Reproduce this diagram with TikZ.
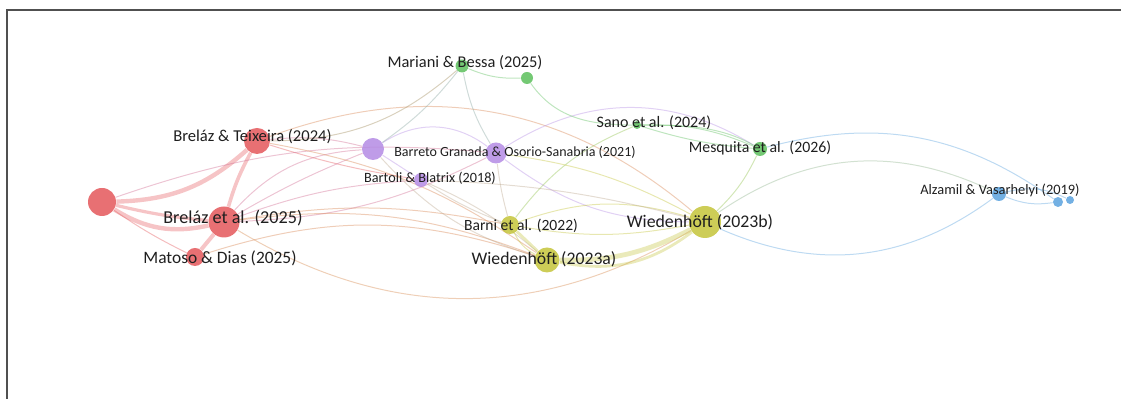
\documentclass[tikz,border=0pt]{standalone}
\usepackage{fontspec}
\setmainfont{Carlito}
\usepackage{xcolor}
\definecolor{clred}{HTML}{E4575B}
\definecolor{clpurple}{HTML}{B48BE4}
\definecolor{clgreen}{HTML}{5CBF5C}
\definecolor{clyellow}{HTML}{C4C43A}
\definecolor{clblue}{HTML}{5AA2DE}
\definecolor{frame}{HTML}{505050}
\pgfdeclarelayer{edges}
\pgfsetlayers{edges,main}
\tikzset{
  item/.style={ % image of a publication (circle)
    circle, inner sep=0pt, minimum size=#1pt, fill opacity=0.85
  },
  lbl/.style={  % label of a publication
    inner sep=0pt, text=black!88,
    font=\fontsize{#1}{#1}\selectfont
  },
  link/.style={ % thin citation link
    draw=#1, line width=0.5pt, draw opacity=0.4
  },
  heavy/.style={ % strong citation link
    line width=#1pt, draw opacity=0.35
  }
}
\begin{document}
\begin{tikzpicture}[x=0.5pt, y=0.5pt]
  \useasboundingbox (0,0) rectangle (1121,-399);
  \draw[frame, line width=1pt] (7,-399) -- (7,-10.5) -- (1121,-10.5);

  % publications
  \node[item=14, fill=clred] (r0) at (102,-202) {};
  \node[item=13, fill=clred] (teix) at (257,-141) {};
  \node[item=15.5, fill=clred] (bet) at (224,-222) {};
  \node[item=9, fill=clred] (mat) at (195,-257) {};
  \node[item=11, fill=clpurple] (bar1) at (373,-149) {};
  \node[item=10.5, fill=clpurple] (bar2) at (496,-153) {};
  \node[item=7, fill=clpurple] (bart) at (421,-180) {};
  \node[item=6.5, fill=clgreen] (mar) at (462,-66) {};
  \node[item=6, fill=clgreen] (gg) at (527,-78) {};
  \node[item=4, fill=clgreen] (sano) at (637,-125) {};
  \node[item=7, fill=clgreen] (mes) at (760,-149) {};
  \node[item=9, fill=clyellow] (barni) at (510,-225) {};
  \node[item=12.5, fill=clyellow] (wa) at (547,-260) {};
  \node[item=16, fill=clyellow] (wb) at (705,-222) {};
  \node[item=7, fill=clblue] (alz) at (999,-194) {};
  \node[item=5, fill=clblue] (bb) at (1058,-202) {};
  \node[item=4, fill=clblue] (bc) at (1070,-200) {};

  % labels
  \node[lbl=8.3] (teix_text) at (252.5,-137) {Breláz \& Teixeira (2024)};
  \node[lbl=9.1] (bet_text) at (233,-218) {Breláz et al. (2025)};
  \node[lbl=8.7] (mat_text) at (220,-258) {Matoso \& Dias (2025)};
  \node[lbl=8.2] (mar_text) at (465,-63) {Mariani \& Bessa (2025)};
  \node[lbl=7] (bar2_text) at (515,-152) {Barreto Granada \& Osorio-Sanabria (2021)};
  \node[lbl=7.1] (bart_text) at (430,-178) {Bartoli \& Blatrix (2018)};
  \node[lbl=8] (sano_text) at (654,-123) {Sano et al. (2024)};
  \node[lbl=7.9] (mes_text) at (760,-148) {Mesquita et al. (2026)};
  \node[lbl=7.8] (barni_text) at (521,-226) {Barni et al. (2022)};
  \node[lbl=8.85] (wa_text) at (544,-259) {Wiedenhöft (2023a)};
  \node[lbl=8.9] (wb_text) at (700,-222) {Wiedenhöft (2023b)};
  \node[lbl=7.2] (alz_text) at (1000,-190) {Alzamil \& Vasarhelyi (2019)};

  \begin{pgfonlayer}{edges}
    % red cluster
    \path[link=clred] (r0) edge[heavy=2.2, bend right=20] (teix);
    \path[link=clred] (r0) edge[heavy=2.2, bend right=22] (bet);
    \path[link=clred] (r0) edge[heavy=1.6, bend right=4] (bet);
    \path[link=clred] (r0) edge[bend right=4] (mat);
    \path[link=clred] (teix) edge[heavy=1.8, bend right=6] (bet);
    \path[link=clred] (bet) edge[heavy=2] (mat);
    \path[link=clred!60!clpurple] (teix) edge[bend left=10] (bar1);
    \path[link=clred] (teix) edge[bend right=4] (bart);
    \path[link=clred!60!clyellow] (teix) edge[bend left=30] (wb);
    \path[link=clred!55!clyellow] (bet) edge[bend right=31] (wb);
    \path[link=clred!60!clpurple] (bet) edge[bend left=22] (bar1);
    \path[link=clred!60!clpurple] (bet) edge[bend left=4] (bar1);
    \path[link=clred!60!clpurple] (bet) edge[bend right=12] (bar2);
    \path[link=clred!60!clpurple] (bet) edge[bend left=8] (bart);
    \path[link=clred!60!clyellow] (bet) edge[bend left=10] (barni);
    \path[link=clred!60!clyellow] (bet) edge[bend left=14] (wa);
    \path[link=clred!60!clpurple] (r0) edge[bend left=12] (bar2);
    \path[link=clred!60!clyellow] (mat) edge[bend left=18] (wa);
    \path[link=clred!60!clyellow] (teix) edge[bend left=12] (wa);
    % purple cluster
    \path[link=clpurple] (bar1) edge[bend left=35] (bar2);
    \path[link=clpurple] (bar1) edge (bart);
    \path[link=clpurple!50!clgreen] (bar1) edge[bend right=8] (mar);
    \path[link=clpurple!50!clyellow] (bar1) edge[bend right=15] (wa);
    \path[link=clpurple] (bar2) edge[bend right=18] (wb);
    \path[link=clpurple!50!clgreen] (bar2) edge[bend left=10] (mar);
    \path[link=clpurple] (bar2) edge[bend left=32] (mes);
    \path[link=clpurple!50!clyellow] (bar2) edge[bend right=4] (barni);
    \path[link=clpurple!50!clyellow] (bart) edge[bend right=6] (barni);
    \path[link=clpurple!50!clyellow] (bart) edge[bend left=8] (wa);
    % green cluster
    \path[link=clgreen] (mar) edge[bend right=12] (gg);
    \path[link=clgreen] (gg) edge[out=-55, in=150] (mes);
    \path[link=clgreen] (sano) edge[bend left=12] (mes);
    \path[link=clgreen] (sano) edge[bend right=6] (mes);
    \path[link=clgreen!50!clred] (mar) edge[bend left=20] (teix);
    \path[link=clgreen!50!clyellow] (barni) edge[bend left=15] (sano);
    \path[link=clgreen!50!clyellow] (mes) edge[bend left=10] (wb);
    % yellow cluster
    \path[link=clyellow] (barni) edge[heavy=1.4] (wa);
    \path[link=clyellow] (barni) edge[bend right=18] (wa);
    \path[link=clyellow] (wa) edge[heavy=2.4, bend right=14] (wb);
    \path[link=clyellow] (wa) edge[heavy=1.4, bend right=24] (wb);
    \path[link=clyellow] (barni) edge[bend left=18] (wb);
    \path[link=clyellow] (barni) edge[bend right=10] (wb);
    \path[link=clyellow] (wb) edge[bend right=10] (bar2);
    \path[link=clyellow!50!clpurple] (wb) edge[bend right=6] (bart);
    \path[link=clyellow!50!clblue] (wb) edge[bend left=30] (alz);
    % blue cluster
    \path[link=clblue] (wb) edge[bend right=30] (alz);
    \path[link=clblue] (mes) edge[bend left=25] (bb);
    \path[link=clblue] (alz) edge[bend right=15] (bb);
    \path[link=clblue] (alz) edge[bend left=20] (bc);
  \end{pgfonlayer}
\end{tikzpicture}
\end{document}
